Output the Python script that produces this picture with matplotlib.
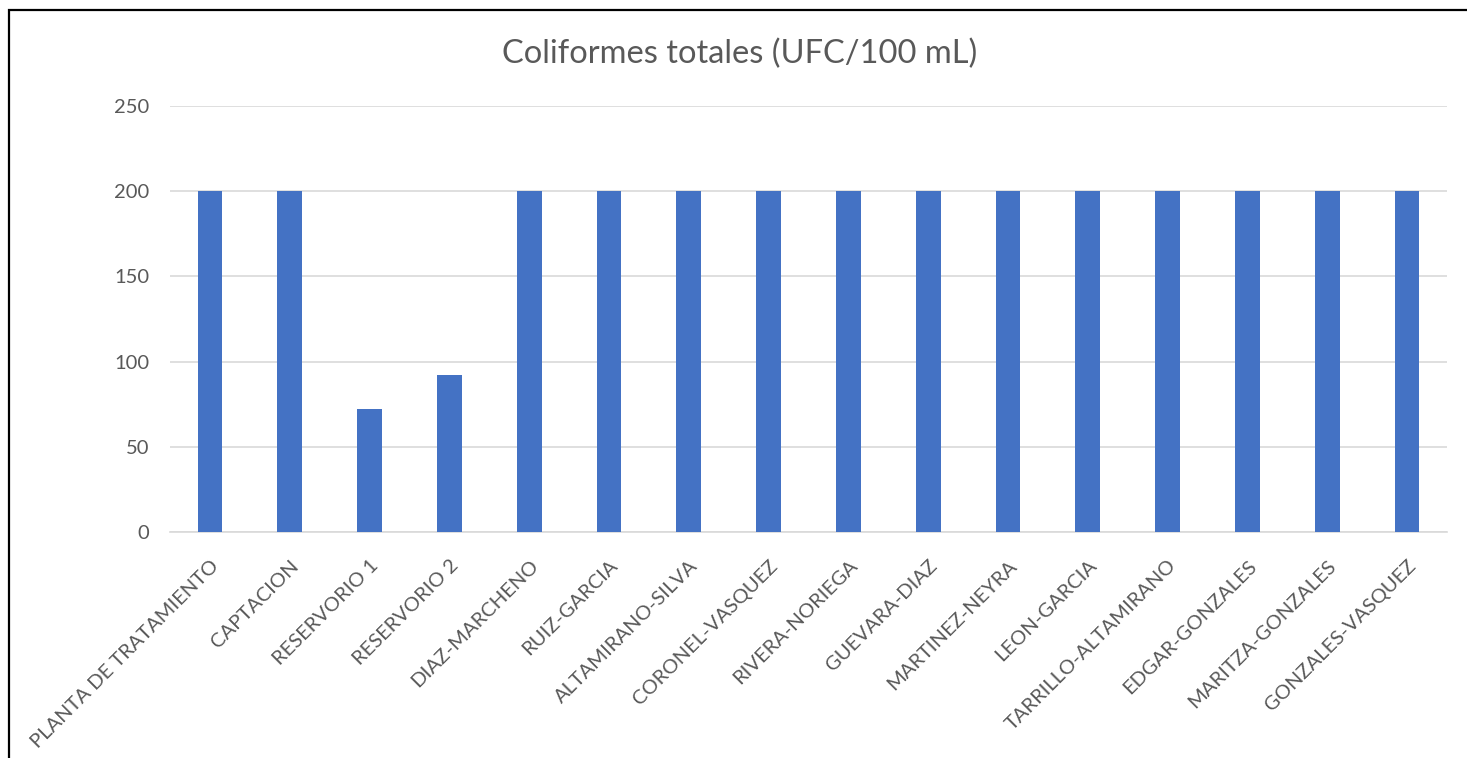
import matplotlib
matplotlib.use("Agg")
import matplotlib.pyplot as plt
from matplotlib.patches import Rectangle

CATEGORIES = [
    "PLANTA DE TRATAMIENTO", "CAPTACION", "RESERVORIO 1", "RESERVORIO 2",
    "DIAZ-MARCHENO", "RUIZ-GARCIA", "ALTAMIRANO-SILVA", "CORONEL-VASQUEZ",
    "RIVERA-NORIEGA", "GUEVARA-DIAZ", "MARTINEZ-NEYRA", "LEON-GARCIA",
    "TARRILLO-ALTAMIRANO", "EDGAR-GONZALES", "MARITZA-GONZALES", "GONZALES-VASQUEZ",
]
VALUES = [200, 200, 72, 92, 200, 200, 200, 200, 200, 200, 200, 200, 200, 200, 200, 200]
Y_TICKS = [0, 50, 100, 150, 200, 250]

TEXT_GRAY = "#595959"
BAR_BLUE = "#4472C4"
GRID_GRAY = "#D9D9D9"

plt.rcParams["font.family"] = ["Lato", "DejaVu Sans"]

W, H = 1467, 758
fig = plt.figure(figsize=(W / 100, H / 100), dpi=100)

# outer chart frame (only left + top edges fall inside the picture)
fig.patches.append(Rectangle((8.5 / W, -0.1), 1.2, 1.1 - 10.5 / H,
                             transform=fig.transFigure, fill=False,
                             edgecolor="black", linewidth=1.6, zorder=10))

ax = fig.add_axes([170 / W, 1 - 532 / H, (1447 - 170) / W, (532 - 106) / H])
x = range(len(CATEGORIES))
ax.bar(x, VALUES, width=0.31, color=BAR_BLUE, zorder=3)

ax.set_xlim(-0.5, len(CATEGORIES) - 0.5)
ax.set_ylim(0, 250)
ax.set_yticks(Y_TICKS)
ax.set_yticklabels([str(v) for v in Y_TICKS], fontsize=14.5, color=TEXT_GRAY)
ax.set_xticks(list(x))
ax.set_xticklabels(CATEGORIES, rotation=45, ha="right", rotation_mode="anchor",
                   fontsize=14.5, color=TEXT_GRAY)
ax.tick_params(axis="both", length=0)
ax.tick_params(axis="y", pad=15)
ax.tick_params(axis="x", pad=18)
ax.grid(axis="y", color=GRID_GRAY, linewidth=1.2, zorder=0)
for side in ["top", "right", "left"]:
    ax.spines[side].set_visible(False)
ax.spines["bottom"].set_color(GRID_GRAY)
ax.spines["bottom"].set_linewidth(1.2)

fig.text(740 / W, 1 - 54 / H, "Coliformes totales (UFC/100 mL)", ha="center",
         va="center", fontsize=23.5, color=TEXT_GRAY)

fig.savefig("out.png", dpi=100)
